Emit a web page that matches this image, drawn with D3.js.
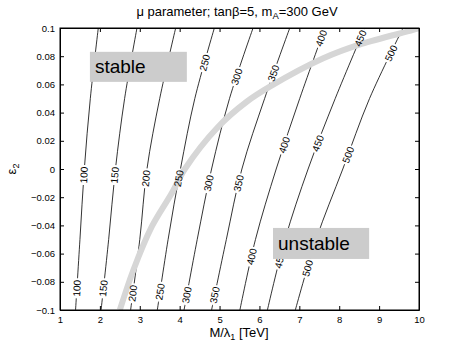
<!DOCTYPE html>
<html>
<head>
<meta charset="utf-8">
<script src="https://cdn.jsdelivr.net/npm/d3@7"></script>
<style>
  body { margin: 0; background: #fff; }
  svg { display: block; font-family: "Liberation Sans", Arial, Helvetica, sans-serif; }
</style>
</head>
<body>
<svg id="chart" width="463" height="349"></svg>
<script>
// ---- data ----
const epsGrid = [-0.1, -0.05, 0, 0.05, 0.1];           // epsilon_2 rows where contours were read
const levels = [100, 150, 200, 250, 300, 350, 400, 450, 500];
const c100 = [1.39, 1.50, 1.61, 1.76, 1.96];
const c150 = [2.03, 2.22, 2.39, 2.62, 2.93];
const c200 = [2.77, 3.00, 3.18, 3.50, 3.90];
const c250 = [3.44, 3.71, 4.02, 4.38, 4.87];
const c300 = [4.11, 4.44, 4.80, 5.25, 5.84];
const c350 = [4.80, 5.17, 5.56, 6.13, 6.76];
const c400 = [5.51, 5.90, 6.42, 7.01, 7.64];
const c450 = [6.20, 6.64, 7.22, 7.90, 8.64];
const c500 = [6.90, 7.42, 8.09, 8.76, 9.60];
const contourX = [c100, c150, c200, c250, c300, c350, c400, c450, c500];
// epsilon positions of contour labels (clabel), per level
const labelEps = [
  [-0.0043, -0.0846],
  [-0.0043, -0.0846],
  [-0.0066, -0.0882],
  [0.0754, -0.0066, -0.087],
  [0.0655, -0.0101, -0.0894],
  [0.0679, -0.0101, -0.0894],
  [0.0927, 0.017, -0.0622],
  [0.0927, 0.0182, -0.0645],
  [0.0821, 0.010, -0.0704]
];
// stability boundary (grey curve)
const boundX = [2.50, 2.84, 3.30, 3.80, 4.13, 4.96, 5.68, 6.26, 7.60, 8.56, 9.85, 10.0];
const boundY = [-0.1, -0.0716, -0.0409, -0.0172, 0.0, 0.0298, 0.0477, 0.0584, 0.0785, 0.0887, 0.0986, 0.1];
const xTicks = [1, 2, 3, 4, 5, 6, 7, 8, 9, 10];
const yTicks = [-0.1, -0.08, -0.06, -0.04, -0.02, 0, 0.02, 0.04, 0.06, 0.08, 0.1];
const regionLabels = [
  { text: "stable", x0: 1.75, x1: 4.18, y0: 0.0831, y1: 0.0618 },
  { text: "unstable", x0: 6.34, x1: 8.75, y0: -0.0418, y1: -0.0638 }
];

// ---- layout ----
const svg = d3.select("#chart");
const L = 60, R = 419, T = 28, B = 310;
const x = d3.scaleLinear().domain([1, 10]).range([L, R]);
const y = d3.scaleLinear().domain([-0.1, 0.1]).range([B, T]);

svg.append("defs").append("clipPath").attr("id", "clip")
  .append("rect").attr("x", L).attr("y", T).attr("width", R - L).attr("height", B - T);

const plot = svg.append("g").attr("clip-path", "url(#clip)");

const line = d3.line().x(d => x(d[0])).y(d => y(d[1])).curve(d3.curveCatmullRom.alpha(0.5));

// contour lines
contourX.forEach((cx) => {
  const pts = cx.map((v, i) => [v, epsGrid[i]]);
  plot.append("path").attr("d", line(pts))
    .attr("fill", "none").attr("stroke", "#000").attr("stroke-width", 0.8);
});

// helper: x on contour at eps, and local slope
function contourAt(cx, e) {
  let i = 0;
  while (i < epsGrid.length - 2 && e > epsGrid[i + 1]) i++;
  const t = (e - epsGrid[i]) / (epsGrid[i + 1] - epsGrid[i]);
  const xv = cx[i] + t * (cx[i + 1] - cx[i]);
  const dxp = x(cx[i + 1]) - x(cx[i]);
  const dyp = y(epsGrid[i + 1]) - y(epsGrid[i]);
  const ang = Math.atan2(dyp, dxp) * 180 / Math.PI;
  return { px: x(xv), py: y(e), ang };
}

const labelInfo = [];
levels.forEach((lev, k) => {
  labelEps[k].forEach(e => {
    const p = contourAt(contourX[k], e);
    labelInfo.push({ lev, ...p });
  });
});

// gaps in contour lines under labels
plot.selectAll("rect.gap").data(labelInfo).enter().append("rect")
  .attr("class", "gap")
  .attr("x", -10).attr("y", -4.5).attr("width", 20).attr("height", 9)
  .attr("fill", "#fff")
  .attr("transform", d => `translate(${d.px},${d.py}) rotate(${d.ang})`);

// grey stability boundary
plot.append("path")
  .attr("d", line(boundX.map((v, i) => [v, boundY[i]])))
  .attr("fill", "none").attr("stroke", "#d6d6d6").attr("stroke-width", 6);

// contour label texts
plot.selectAll("text.clab").data(labelInfo).enter().append("text")
  .attr("class", "clab")
  .attr("text-anchor", "middle").attr("dy", "0.35em")
  .attr("font-size", 10).attr("fill", "#000")
  .attr("transform", d => `translate(${d.px},${d.py}) rotate(${d.ang})`)
  .text(d => d.lev);

// region label boxes
regionLabels.forEach(r => {
  plot.append("rect")
    .attr("x", x(r.x0)).attr("y", y(r.y0))
    .attr("width", x(r.x1) - x(r.x0)).attr("height", y(r.y1) - y(r.y0))
    .attr("fill", "#cccccc");
  plot.append("text")
    .attr("x", x(r.x0) + 5).attr("y", (y(r.y0) + y(r.y1)) / 2 + 6.5)
    .attr("font-size", 19).attr("fill", "#000")
    .text(r.text);
});

// axes
const fmt = v => (v < 0 ? "\u2212" : "") + String(Math.abs(v));
const gx = svg.append("g").attr("transform", `translate(0,${B})`)
  .call(d3.axisBottom(x).tickValues(xTicks).tickSizeInner(-4).tickSizeOuter(0).tickPadding(6).tickFormat(d => d));
const gxt = svg.append("g").attr("transform", `translate(0,${T})`)
  .call(d3.axisTop(x).tickValues(xTicks).tickSizeInner(-4).tickSizeOuter(0).tickFormat(""));
const gy = svg.append("g").attr("transform", `translate(${L},0)`)
  .call(d3.axisLeft(y).tickValues(yTicks).tickSizeInner(-4).tickSizeOuter(0).tickPadding(5).tickFormat(fmt));
const gyr = svg.append("g").attr("transform", `translate(${R},0)`)
  .call(d3.axisRight(y).tickValues(yTicks).tickSizeInner(-4).tickSizeOuter(0).tickFormat(""));
[gx, gxt, gy, gyr].forEach(g => {
  g.selectAll("text").attr("font-size", 9.5).attr("fill", "#000")
    .attr("font-family", '"Liberation Sans", Arial, Helvetica, sans-serif');
  g.select(".domain").attr("stroke", "#000");
  g.selectAll(".tick line").attr("stroke", "#000");
});

// frame
svg.append("rect").attr("x", L).attr("y", T).attr("width", R - L).attr("height", B - T)
  .attr("fill", "none").attr("stroke", "#000").attr("stroke-width", 1);

// title
const title = svg.append("text").attr("x", 237).attr("y", 16)
  .attr("text-anchor", "middle").attr("font-size", 13);
title.append("tspan").text("\u03bc parameter; tan\u03b2=5, m");
title.append("tspan").attr("font-size", 9.5).attr("dy", 3).text("A");
title.append("tspan").attr("dy", -3).text("=300 GeV");

// x label
const xl = svg.append("text").attr("x", 239).attr("y", 337)
  .attr("text-anchor", "middle").attr("font-size", 13);
xl.append("tspan").text("M/\u03bb");
xl.append("tspan").attr("font-size", 9).attr("dy", 3).text("1");
xl.append("tspan").attr("dy", -3).text(" [TeV]");

// y label
const yl = svg.append("text").attr("transform", `translate(16,${(T + B) / 2}) rotate(-90)`)
  .attr("text-anchor", "middle").attr("font-size", 13);
yl.append("tspan").text("\u03b5");
yl.append("tspan").attr("font-size", 9).attr("dy", 3).text("2");
</script>
</body>
</html>
